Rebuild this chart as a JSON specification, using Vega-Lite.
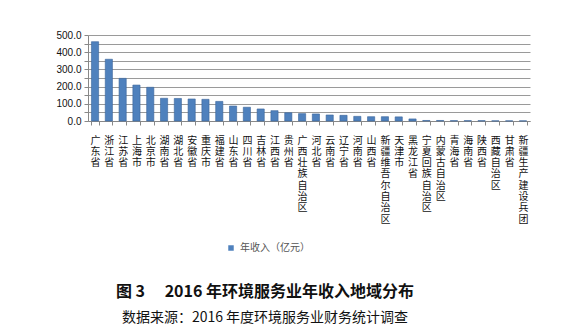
{
  "$schema": "https://vega.github.io/schema/vega-lite/v6.json",
  "autosize": "none",
  "width": 442,
  "height": 86,
  "padding": {"left": 88, "top": 35, "right": 46, "bottom": 210},
  "background": "white",
  "config": {
    "view": {"stroke": null},
    "font": "Noto Sans CJK SC"
  },
  "title": {
    "text": "图 3\u3000 2016 年环境服务业年收入地域分布",
    "subtitle": "数据来源：2016 年度环境服务业财务统计调查",
    "orient": "bottom",
    "anchor": "middle",
    "dx": -44,
    "offset": 31,
    "font": "Noto Sans CJK SC",
    "fontSize": 16,
    "fontWeight": "bold",
    "color": "#111",
    "subtitleFont": "Noto Sans CJK SC",
    "subtitleFontSize": 14,
    "subtitleColor": "#111",
    "subtitlePadding": 11
  },
  "data": {
    "values": [
      {"region": "广东省", "value": 461},
      {"region": "浙江省", "value": 359},
      {"region": "江苏省", "value": 248},
      {"region": "上海市", "value": 209},
      {"region": "北京市", "value": 196},
      {"region": "湖南省", "value": 132},
      {"region": "湖北省", "value": 131},
      {"region": "安徽省", "value": 128},
      {"region": "重庆市", "value": 126},
      {"region": "福建省", "value": 114},
      {"region": "山东省", "value": 87},
      {"region": "四川省", "value": 80},
      {"region": "吉林省", "value": 70},
      {"region": "江西省", "value": 60},
      {"region": "贵州省", "value": 48},
      {"region": "广西壮族自治区", "value": 43},
      {"region": "河北省", "value": 41},
      {"region": "云南省", "value": 35},
      {"region": "辽宁省", "value": 33},
      {"region": "河南省", "value": 27},
      {"region": "山西省", "value": 25},
      {"region": "新疆维吾尔自治区", "value": 25},
      {"region": "天津市", "value": 24},
      {"region": "黑龙江省", "value": 12},
      {"region": "宁夏回族自治区", "value": 3},
      {"region": "内蒙古自治区", "value": 3},
      {"region": "青海省", "value": 2},
      {"region": "海南省", "value": 2},
      {"region": "陕西省", "value": 2},
      {"region": "西藏自治区", "value": 1},
      {"region": "甘肃省", "value": 1},
      {"region": "新疆生产建设兵团", "value": 1}
    ]
  },
  "mark": {"type": "bar", "stroke": "#3a659a", "strokeWidth": 0.6},
  "encoding": {
    "x": {
      "field": "region",
      "type": "nominal",
      "sort": null,
      "scale": {"paddingInner": 0.48, "paddingOuter": 0.25},
      "axis": {
        "title": null,
        "labelAngle": 0,
        "labelExpr": "split(datum.label, '')",
        "labelBaseline": "top",
        "labelAlign": "center",
        "labelLineHeight": 11.3,
        "labelFontSize": 10,
        "labelColor": "#111",
        "labelPadding": 10,
        "labelOverlap": false,
        "domainColor": "#888",
        "tickColor": "#888",
        "tickSize": 4,
        "tickBand": "extent"
      }
    },
    "y": {
      "field": "value",
      "type": "quantitative",
      "scale": {"domain": [0, 500], "nice": false},
      "axis": {
        "title": null,
        "values": [0, 50, 100, 150, 200, 250, 300, 350, 400, 450, 500],
        "format": ".1f",
        "labelFont": "Liberation Sans",
        "labelFontSize": 10,
        "labelColor": "#111",
        "labelPadding": 3,
        "gridColor": "#9a9a9a",
        "gridWidth": 1,
        "domainColor": "#888",
        "tickColor": "#888",
        "tickSize": 4
      }
    },
    "color": {
      "datum": "年收入（亿元）",
      "scale": {"range": ["#4f81bd"]},
      "legend": {
        "title": null,
        "orient": "none",
        "legendX": 138,
        "legendY": 208,
        "symbolType": "square",
        "symbolSize": 30,
        "symbolStrokeWidth": 0,
        "labelFontSize": 10,
        "labelColor": "#555",
        "labelFont": "Noto Sans CJK SC"
      }
    }
  }
}
